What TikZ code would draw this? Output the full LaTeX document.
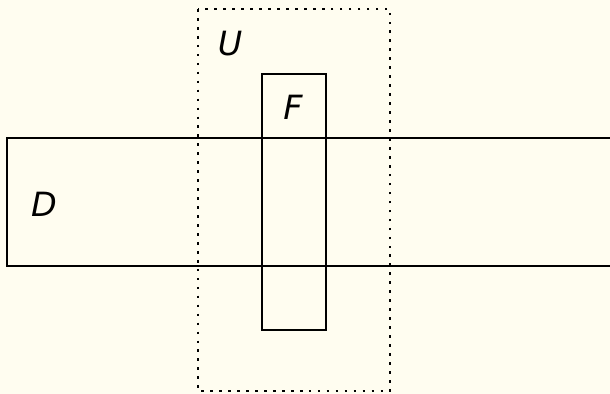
\documentclass[tikz,border=0pt]{standalone}
\usepackage{fontspec}
\setmainfont{DejaVu Sans}
\usetikzlibrary{positioning}
\definecolor{paper}{HTML}{FFFDF0}

\begin{document}
\begin{tikzpicture}[
    x=0.02cm, y=-0.02cm,
    box/.style={draw, line width=1.1pt},
    nbhd/.style={draw, line width=1.5pt, dash pattern=on 1.5pt off 3.6pt},
    lbl/.style={font=\fontsize{19}{22}\selectfont\itshape, inner sep=0pt},
  ]
  \fill[paper] (0,0) rectangle (610,394);
  \clip (0,0) rectangle (610,394);

  \coordinate (u1) at (198,9);   \coordinate (u2) at (390,391);
  \coordinate (f1) at (262,74);  \coordinate (f2) at (326,330);
  \coordinate (d1) at (7,138);   \coordinate (d2) at (640,266);

  \draw[nbhd] (u1) rectangle (u2);
  \draw[box] (f1) rectangle (f2);
  \draw[box] (d1) rectangle (d2);

  \node[lbl] (U) at (230,44) {U};
  \node[lbl] (F) at (293,107) {F};
  \node[lbl] (D) at (44,204) {D};
\end{tikzpicture}
\end{document}
